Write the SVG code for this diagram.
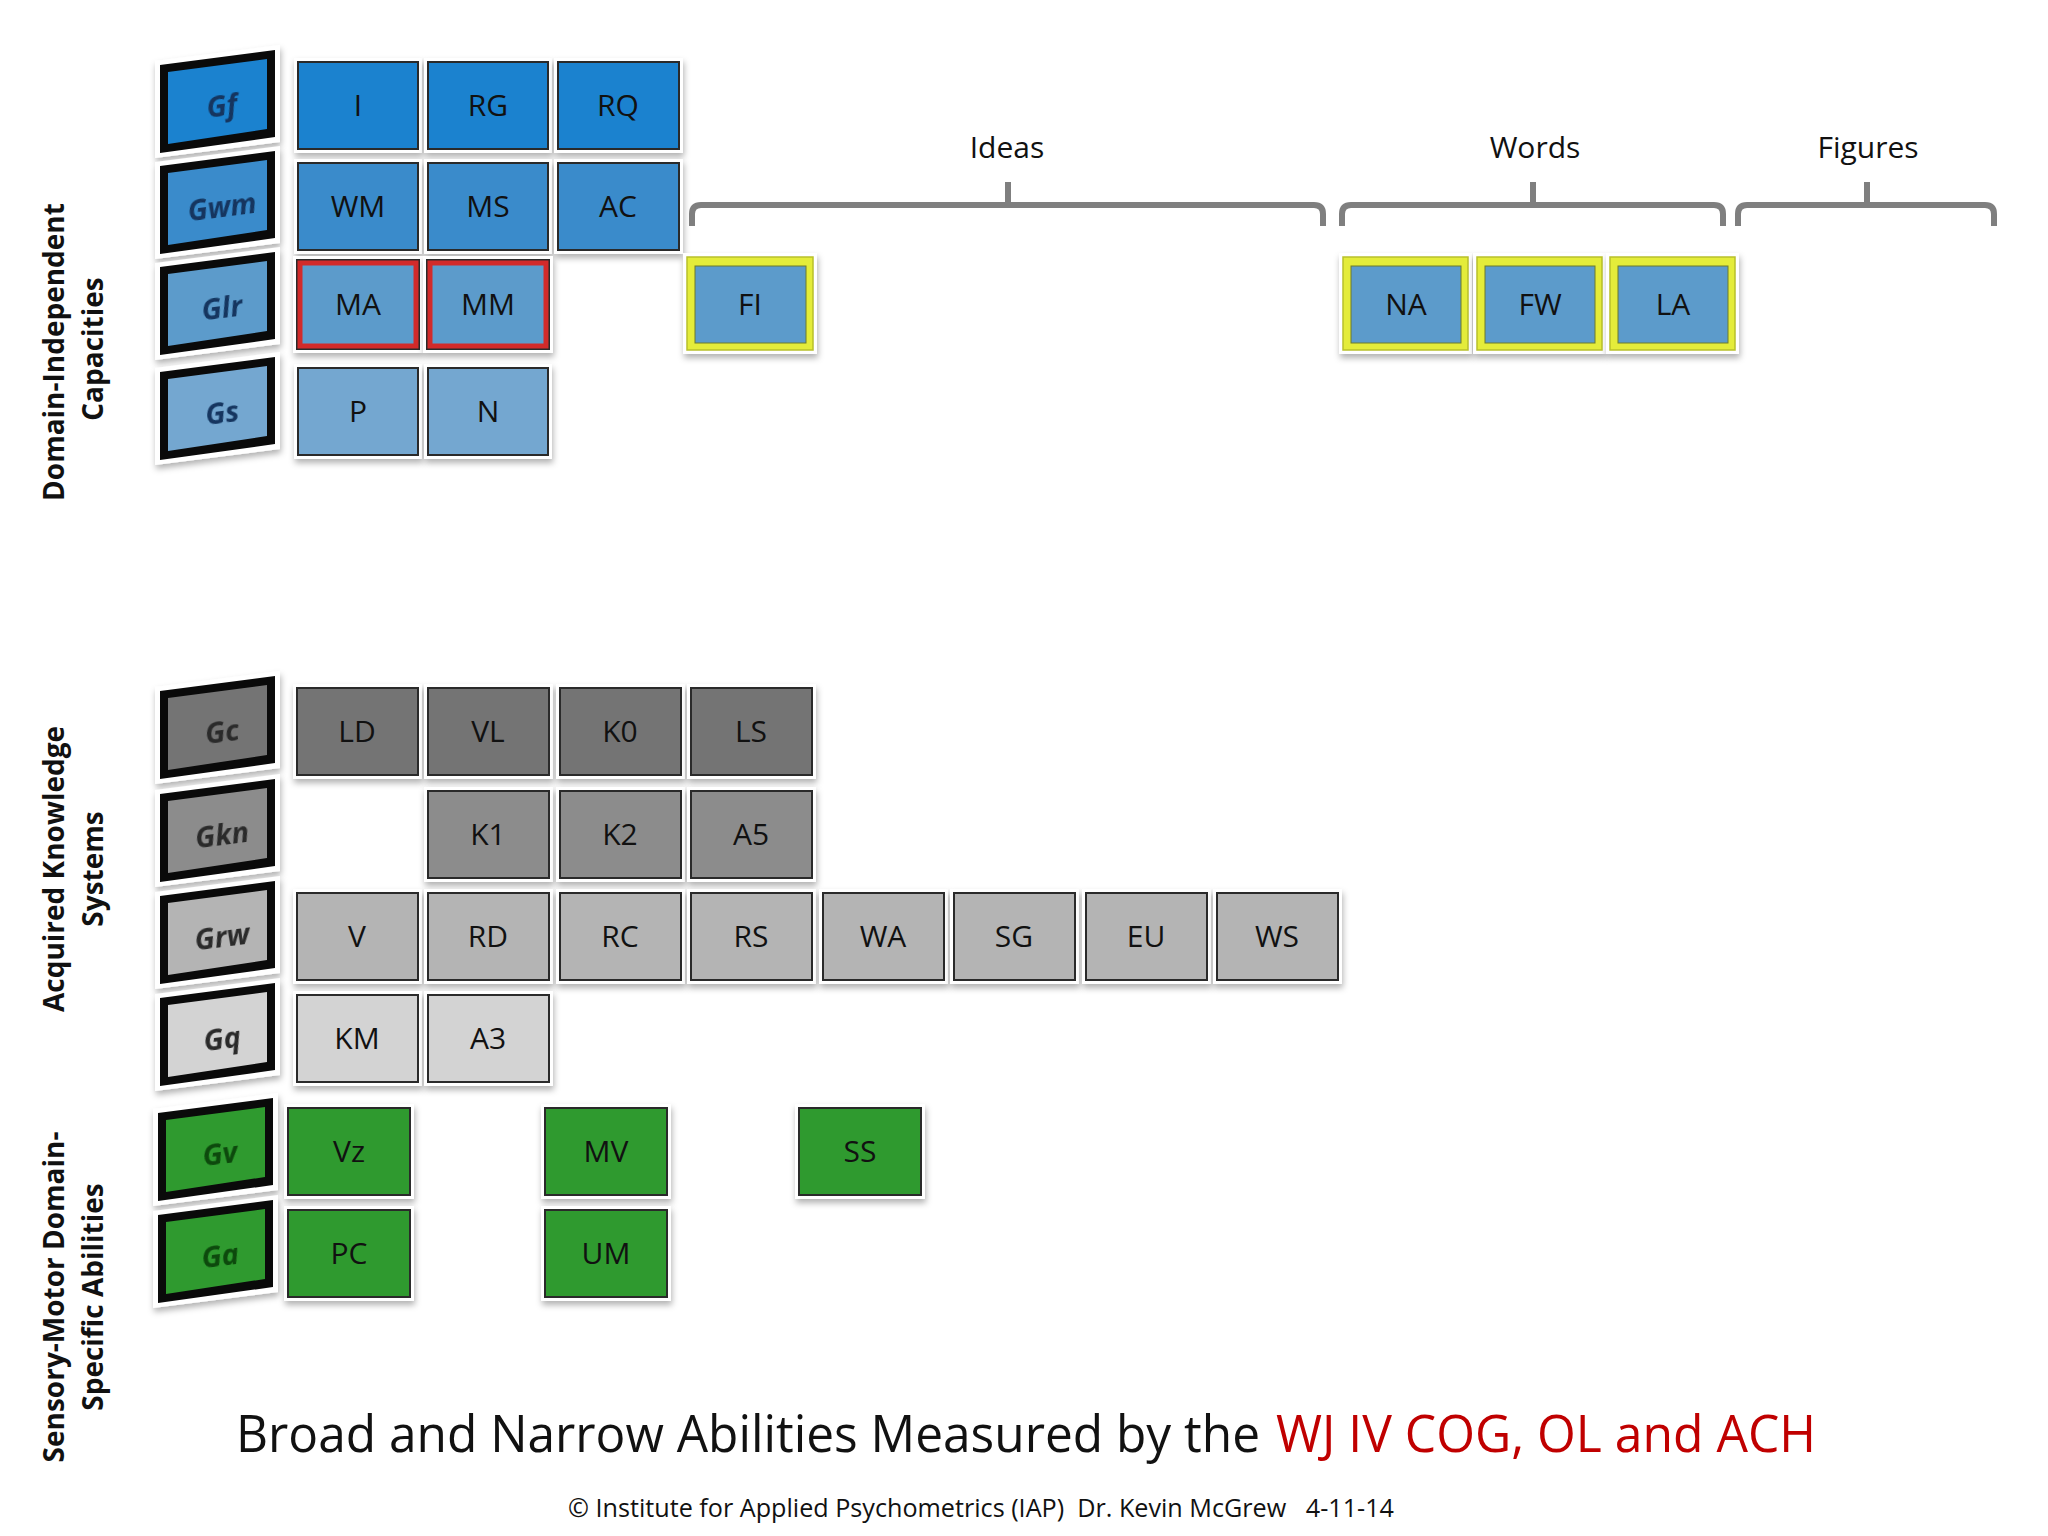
<svg xmlns="http://www.w3.org/2000/svg" width="2048" height="1536" viewBox="0 0 2048 1536">
<defs>
<filter id="sh" x="-20%" y="-20%" width="140%" height="150%">
<feDropShadow dx="1" dy="4" stdDeviation="3" flood-color="#000" flood-opacity="0.3"/>
</filter>
<filter id="soft" x="-10%" y="-30%" width="120%" height="160%">
<feGaussianBlur stdDeviation="0.6"/>
</filter>
<style>
.halo{fill:#fff;filter:url(#sh)}
.bx{stroke:#2a2a2a;stroke-width:2}
.lbl{font-family:"Open Sans","Noto Sans",sans-serif;font-size:30px;fill:#111;text-anchor:middle}
.gl{font-family:"Open Sans","Noto Sans",sans-serif;font-size:29px;font-weight:bold;font-style:italic;text-anchor:middle;filter:url(#soft)}
.side{font-family:"Open Sans","Noto Sans",sans-serif;font-size:28px;font-weight:bold;fill:#111;text-anchor:middle}
.gout{fill:#0a0a0a}
.b1{fill:#1b82cf}.b2{fill:#3a8bcb}.b3{fill:#5c9bcb}.b4{fill:#74a7d0}
.g1{fill:#747474}.g2{fill:#8c8c8c}.g3{fill:#b4b4b4}.g4{fill:#d3d3d3}
.gr{fill:#2f9a2f}
.tb{fill:#12345e}.tg{fill:#2b2b2b}.tgr{fill:#0a4a0a}
.red{stroke:#d22a2a;stroke-width:5;fill:none}
.yel{fill:#e4ec3a;stroke:#b8c02a;stroke-width:1.5}
.brk{fill:none;stroke:#7f7f7f;stroke-width:6;stroke-linejoin:round;stroke-linecap:butt}
.head{font-family:"Open Sans","Noto Sans",sans-serif;font-size:30px;fill:#111;text-anchor:middle}
</style>
<g id="gshape">
<path class="halo" d="M-5,-1 L120,-17 L120,80 L-5,96 Z"/>
<path class="gout" d="M0,3 L115,-12 L115,75 L0,91 Z"/>
</g>
<path id="ginner" d="M8,10 L107,-3 L107,67 L8,82 Z"/>
</defs>

<!-- side labels -->
<g id="side-labels">
<text class="side" transform="translate(64,352) rotate(-90)">Domain-Independent</text>
<text class="side" transform="translate(103,349) rotate(-90)">Capacities</text>
<text class="side" transform="translate(64,869) rotate(-90)">Acquired Knowledge</text>
<text class="side" transform="translate(103,869) rotate(-90)">Systems</text>
<text class="side" transform="translate(64,1297) rotate(-90)">Sensory-Motor Domain-</text>
<text class="side" transform="translate(103,1297) rotate(-90)">Specific Abilities</text>
</g>

<!-- brackets -->
<g id="connectors">
<path class="brk" d="M692,226 V214 Q692,205 701,205 H1314 Q1323,205 1323,214 V226"/>
<path class="brk" d="M1008,205 V182"/>
<path class="brk" d="M1342,226 V214 Q1342,205 1351,205 H1714 Q1723,205 1723,214 V226"/>
<path class="brk" d="M1533,205 V182"/>
<path class="brk" d="M1738,226 V214 Q1738,205 1747,205 H1985 Q1994,205 1994,214 V226"/>
<path class="brk" d="M1867,205 V182"/>
<text class="head" x="1007" y="158">Ideas</text>
<text class="head" x="1535" y="158">Words</text>
<text class="head" x="1868" y="158">Figures</text>
</g>

<!-- broad ability boxes -->
<g id="n-Gf" transform="translate(160,62)"><use href="#gshape"/><use href="#ginner" class="b1"/><text class="gl tb" transform="translate(62,44) rotate(-7.4)" y="10">Gf</text></g>
<g id="n-Gwm" transform="translate(160,163)"><use href="#gshape"/><use href="#ginner" class="b2"/><text class="gl tb" transform="translate(62,44) rotate(-7.4)" y="10">Gwm</text></g>
<g id="n-Glr" transform="translate(160,264)"><use href="#gshape"/><use href="#ginner" class="b3"/><text class="gl tb" transform="translate(62,44) rotate(-7.4)" y="10">Glr</text></g>
<g id="n-Gs" transform="translate(160,369)"><use href="#gshape"/><use href="#ginner" class="b4"/><text class="gl tb" transform="translate(62,44) rotate(-7.4)" y="10">Gs</text></g>
<g id="n-Gc" transform="translate(160,688)"><use href="#gshape"/><use href="#ginner" class="g1"/><text class="gl tg" transform="translate(62,44) rotate(-7.4)" y="10">Gc</text></g>
<g id="n-Gkn" transform="translate(160,791)"><use href="#gshape"/><use href="#ginner" class="g2"/><text class="gl tg" transform="translate(62,44) rotate(-7.4)" y="10">Gkn</text></g>
<g id="n-Grw" transform="translate(160,893)"><use href="#gshape"/><use href="#ginner" class="g3"/><text class="gl tg" transform="translate(62,44) rotate(-7.4)" y="10">Grw</text></g>
<g id="n-Gq" transform="translate(160,995)"><use href="#gshape"/><use href="#ginner" class="g4"/><text class="gl tg" transform="translate(62,44) rotate(-7.4)" y="10">Gq</text></g>
<g id="n-Gv" transform="translate(158,1110)"><use href="#gshape"/><use href="#ginner" class="gr"/><text class="gl tgr" transform="translate(62,44) rotate(-7.4)" y="10">Gv</text></g>
<g id="n-Ga" transform="translate(158,1212)"><use href="#gshape"/><use href="#ginner" class="gr"/><text class="gl tgr" transform="translate(62,44) rotate(-7.4)" y="10">Ga</text></g>

<!-- top section narrow abilities -->
<g id="n-I"><rect class="halo" x="294" y="58" width="128" height="95"/><rect class="bx b1" x="298" y="62" width="120" height="87"/><text class="lbl" x="358" y="116">I</text></g>
<g id="n-RG"><rect class="halo" x="424" y="58" width="128" height="95"/><rect class="bx b1" x="428" y="62" width="120" height="87"/><text class="lbl" x="488" y="116">RG</text></g>
<g id="n-RQ"><rect class="halo" x="554" y="58" width="129" height="95"/><rect class="bx b1" x="558" y="62" width="121" height="87"/><text class="lbl" x="618" y="116">RQ</text></g>

<g id="n-WM"><rect class="halo" x="294" y="159" width="128" height="95"/><rect class="bx b2" x="298" y="163" width="120" height="87"/><text class="lbl" x="358" y="217">WM</text></g>
<g id="n-MS"><rect class="halo" x="424" y="159" width="128" height="95"/><rect class="bx b2" x="428" y="163" width="120" height="87"/><text class="lbl" x="488" y="217">MS</text></g>
<g id="n-AC"><rect class="halo" x="554" y="159" width="129" height="95"/><rect class="bx b2" x="558" y="163" width="121" height="87"/><text class="lbl" x="618" y="217">AC</text></g>

<g id="n-MA"><rect class="halo" x="293" y="256" width="130" height="97"/><rect class="bx b3" x="297" y="260" width="122" height="89"/><rect class="red" x="300" y="263" width="116" height="83"/><text class="lbl" x="358" y="315">MA</text></g>
<g id="n-MM"><rect class="halo" x="423" y="256" width="130" height="97"/><rect class="bx b3" x="427" y="260" width="122" height="89"/><rect class="red" x="430" y="263" width="116" height="83"/><text class="lbl" x="488" y="315">MM</text></g>

<g id="n-P"><rect class="halo" x="294" y="364" width="128" height="95"/><rect class="bx b4" x="298" y="368" width="120" height="87"/><text class="lbl" x="358" y="422">P</text></g>
<g id="n-N"><rect class="halo" x="424" y="364" width="128" height="95"/><rect class="bx b4" x="428" y="368" width="120" height="87"/><text class="lbl" x="488" y="422">N</text></g>

<g id="n-FI"><rect class="halo" x="683" y="253" width="134" height="101"/><rect class="yel" x="687" y="257" width="126" height="93"/><rect class="b3" x="695" y="266" width="111" height="77" stroke="#6d7a2a" stroke-width="1"/><text class="lbl" x="750" y="315">FI</text></g>
<g id="n-NA"><rect class="halo" x="1339" y="253" width="133" height="101"/><rect class="yel" x="1343" y="257" width="125" height="93"/><rect class="b3" x="1351" y="266" width="110" height="77" stroke="#6d7a2a" stroke-width="1"/><text class="lbl" x="1406" y="315">NA</text></g>
<g id="n-FW"><rect class="halo" x="1473" y="253" width="133" height="101"/><rect class="yel" x="1477" y="257" width="125" height="93"/><rect class="b3" x="1485" y="266" width="110" height="77" stroke="#6d7a2a" stroke-width="1"/><text class="lbl" x="1540" y="315">FW</text></g>
<g id="n-LA"><rect class="halo" x="1606" y="253" width="133" height="101"/><rect class="yel" x="1610" y="257" width="125" height="93"/><rect class="b3" x="1618" y="266" width="110" height="77" stroke="#6d7a2a" stroke-width="1"/><text class="lbl" x="1673" y="315">LA</text></g>

<!-- middle section -->
<g id="n-LD"><rect class="halo" x="293" y="684" width="129" height="95"/><rect class="bx g1" x="297" y="688" width="121" height="87"/><text class="lbl" x="357" y="742">LD</text></g>
<g id="n-VL"><rect class="halo" x="424" y="684" width="129" height="95"/><rect class="bx g1" x="428" y="688" width="121" height="87"/><text class="lbl" x="488" y="742">VL</text></g>
<g id="n-K0"><rect class="halo" x="556" y="684" width="129" height="95"/><rect class="bx g1" x="560" y="688" width="121" height="87"/><text class="lbl" x="620" y="742">K0</text></g>
<g id="n-LS"><rect class="halo" x="687" y="684" width="129" height="95"/><rect class="bx g1" x="691" y="688" width="121" height="87"/><text class="lbl" x="751" y="742">LS</text></g>

<g id="n-K1"><rect class="halo" x="424" y="787" width="129" height="95"/><rect class="bx g2" x="428" y="791" width="121" height="87"/><text class="lbl" x="488" y="845">K1</text></g>
<g id="n-K2"><rect class="halo" x="556" y="787" width="129" height="95"/><rect class="bx g2" x="560" y="791" width="121" height="87"/><text class="lbl" x="620" y="845">K2</text></g>
<g id="n-A5"><rect class="halo" x="687" y="787" width="129" height="95"/><rect class="bx g2" x="691" y="791" width="121" height="87"/><text class="lbl" x="751" y="845">A5</text></g>

<g id="n-V"><rect class="halo" x="293" y="889" width="129" height="95"/><rect class="bx g3" x="297" y="893" width="121" height="87"/><text class="lbl" x="357" y="947">V</text></g>
<g id="n-RD"><rect class="halo" x="424" y="889" width="129" height="95"/><rect class="bx g3" x="428" y="893" width="121" height="87"/><text class="lbl" x="488" y="947">RD</text></g>
<g id="n-RC"><rect class="halo" x="556" y="889" width="129" height="95"/><rect class="bx g3" x="560" y="893" width="121" height="87"/><text class="lbl" x="620" y="947">RC</text></g>
<g id="n-RS"><rect class="halo" x="687" y="889" width="129" height="95"/><rect class="bx g3" x="691" y="893" width="121" height="87"/><text class="lbl" x="751" y="947">RS</text></g>
<g id="n-WA"><rect class="halo" x="819" y="889" width="129" height="95"/><rect class="bx g3" x="823" y="893" width="121" height="87"/><text class="lbl" x="883" y="947">WA</text></g>
<g id="n-SG"><rect class="halo" x="950" y="889" width="129" height="95"/><rect class="bx g3" x="954" y="893" width="121" height="87"/><text class="lbl" x="1014" y="947">SG</text></g>
<g id="n-EU"><rect class="halo" x="1082" y="889" width="129" height="95"/><rect class="bx g3" x="1086" y="893" width="121" height="87"/><text class="lbl" x="1146" y="947">EU</text></g>
<g id="n-WS"><rect class="halo" x="1213" y="889" width="129" height="95"/><rect class="bx g3" x="1217" y="893" width="121" height="87"/><text class="lbl" x="1277" y="947">WS</text></g>

<g id="n-KM"><rect class="halo" x="293" y="991" width="129" height="95"/><rect class="bx g4" x="297" y="995" width="121" height="87"/><text class="lbl" x="357" y="1049">KM</text></g>
<g id="n-A3"><rect class="halo" x="424" y="991" width="129" height="95"/><rect class="bx g4" x="428" y="995" width="121" height="87"/><text class="lbl" x="488" y="1049">A3</text></g>

<!-- bottom section -->
<g id="n-Vz"><rect class="halo" x="284" y="1104" width="130" height="95"/><rect class="bx gr" x="288" y="1108" width="122" height="87"/><text class="lbl" x="349" y="1162">Vz</text></g>
<g id="n-MV"><rect class="halo" x="541" y="1104" width="130" height="95"/><rect class="bx gr" x="545" y="1108" width="122" height="87"/><text class="lbl" x="606" y="1162">MV</text></g>
<g id="n-SS"><rect class="halo" x="795" y="1104" width="130" height="95"/><rect class="bx gr" x="799" y="1108" width="122" height="87"/><text class="lbl" x="860" y="1162">SS</text></g>
<g id="n-PC"><rect class="halo" x="284" y="1206" width="130" height="95"/><rect class="bx gr" x="288" y="1210" width="122" height="87"/><text class="lbl" x="349" y="1264">PC</text></g>
<g id="n-UM"><rect class="halo" x="541" y="1206" width="130" height="95"/><rect class="bx gr" x="545" y="1210" width="122" height="87"/><text class="lbl" x="606" y="1264">UM</text></g>

<!-- title and footer -->
<g id="title">
<text x="236" y="1452" font-family="'Open Sans','Noto Sans',sans-serif" font-size="52" fill="#111" textLength="1024" lengthAdjust="spacingAndGlyphs">Broad and Narrow Abilities Measured by the</text>
<text x="1276" y="1452" font-family="'Open Sans','Noto Sans',sans-serif" font-size="52" fill="#c00000" textLength="540" lengthAdjust="spacingAndGlyphs">WJ IV COG, OL and ACH</text>
<text x="568" y="1517" font-family="'Open Sans','Noto Sans',sans-serif" font-size="25" fill="#111" textLength="826" lengthAdjust="spacingAndGlyphs" xml:space="preserve">© Institute for Applied Psychometrics (IAP)  Dr. Kevin McGrew   4-11-14</text>
</g>
</svg>
